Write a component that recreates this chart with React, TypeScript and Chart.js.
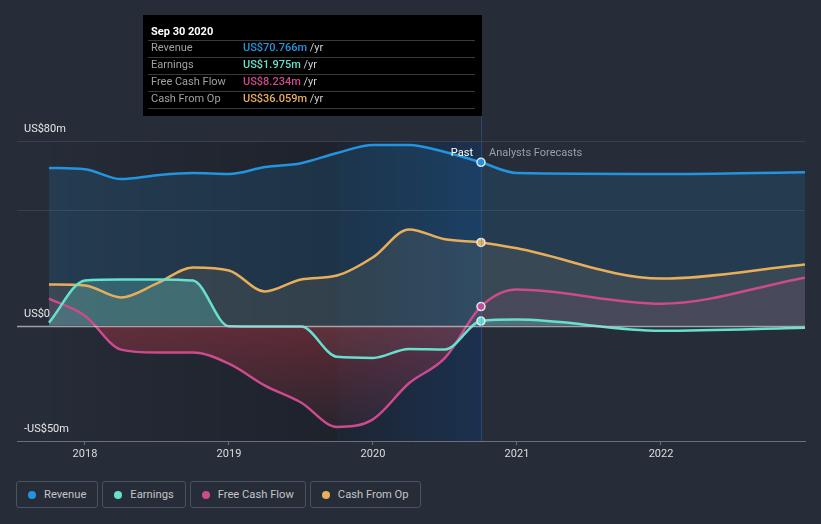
import React, { useEffect, useRef } from 'react';
import { Chart, registerables } from 'chart.js';

Chart.register(...registerables);

// ---- data ----
const pastDates = [2017.75, 2018.0, 2018.25, 2018.5, 2018.75, 2019.0, 2019.25, 2019.5, 2019.75, 2020.0, 2020.25, 2020.5, 2020.75];
const forecastDates = [2021.0, 2022.0, 2023.0];

const revenuePast = [68.3, 67.8, 63.5, 65.2, 66.1, 65.7, 68.7, 70.4, 74.8, 78.3, 78.3, 75.2, 70.766];
const revenueForecast = [66.1, 65.7, 66.5];

const earningsPast = [1.3, 19.6, 20.0, 20.0, 19.5, -0.3, -0.4, -0.4, -13.5, -14.0, -10.1, -10.3, 1.975];
const earningsForecast = [2.6, -2.2, -0.9];

const fcfPast = [11.7, 4.3, -10.4, -11.7, -11.6, -16.5, -26.0, -33.3, -43.9, -40.6, -25.0, -14.0, 8.234];
const fcfForecast = [15.6, 9.5, 20.8];

const cfoPast = [17.8, 17.4, 12.2, 18.3, 25.2, 23.9, 14.8, 20.0, 21.7, 29.6, 41.7, 37.4, 36.059];
const cfoForecast = [33.5, 20.4, 26.5];

const seriesNames = ['Revenue', 'Earnings', 'Free Cash Flow', 'Cash From Op'];
const seriesColors = ['#2394df', '#67e0cd', '#cd4b8c', '#e9ae5b'];
const tooltipTitle = 'Sep 30 2020';
const tooltipValues = ['US$70.766m', 'US$1.975m', 'US$8.234m', 'US$36.059m'];
const tooltipUnit = '/yr';

const yearTicks = [2018, 2019, 2020, 2021, 2022];
const yGridValues = [-50, 0, 50, 80];
const yLabelValues = [80, 0, -50];
const yLabelTexts = ['US$80m', 'US$0', '-US$50m'];
const bandStart = 2019.75;
const pastEnd = 2020.75;
const xMin = 2017.528;
const xMax = 2023.0;

const FONT = 'Roboto, "Noto Sans", sans-serif';

export default function App() {
  const canvasRef = useRef<HTMLCanvasElement>(null);

  useEffect(() => {
    const canvas = canvasRef.current!;
    const mk = (past: number[], fc: number[]) => [
      ...pastDates.map((x, i) => ({ x, y: past[i] })),
      ...forecastDates.map((x, i) => ({ x, y: fc[i] })),
    ];
    const markerIndex = pastDates.length - 1;

    const shadingPlugin = {
      id: 'shading',
      beforeDraw(chart: any) {
        const { ctx, chartArea: a, scales } = chart;
        const x = scales.x;
        const x0 = x.getPixelForValue(pastDates[0]);
        const xb = x.getPixelForValue(bandStart);
        const xe = x.getPixelForValue(pastEnd);
        const h = a.bottom - a.top;
        ctx.save();
        let g = ctx.createLinearGradient(x0, 0, xb, 0);
        g.addColorStop(0, 'rgba(0,0,0,0)');
        g.addColorStop(1, 'rgba(0,0,0,0.22)');
        ctx.fillStyle = g;
        ctx.fillRect(x0, a.top, xb - x0, h);
        ctx.fillStyle = 'rgba(0,0,0,0.22)';
        ctx.fillRect(xb, a.top, xe - xb, h);
        g = ctx.createLinearGradient(xb, 0, xe, 0);
        g.addColorStop(0, 'rgba(20,110,220,0.04)');
        g.addColorStop(1, 'rgba(20,110,220,0.2)');
        ctx.fillStyle = g;
        ctx.fillRect(xb, a.top, xe - xb, h);
        ctx.restore();
      },
      afterDatasetsDraw(chart: any) {
        const { ctx, chartArea: a, scales } = chart;
        const y0 = Math.round(scales.y.getPixelForValue(0)) + 0.5;
        ctx.save();
        ctx.strokeStyle = 'rgba(200,200,205,0.75)';
        ctx.lineWidth = 1.5;
        ctx.beginPath();
        ctx.moveTo(a.left, y0);
        ctx.lineTo(a.right, y0);
        ctx.stroke();
        ctx.restore();
      },
      afterDraw(chart: any) {
        const { ctx, chartArea: a, scales } = chart;
        const xe = scales.x.getPixelForValue(pastEnd);
        ctx.save();
        // y labels
        ctx.font = `11px ${FONT}`;
        ctx.fillStyle = '#e6e6e6';
        ctx.textBaseline = 'middle';
        ctx.textAlign = 'left';
        yLabelValues.forEach((v, i) => {
          const py = scales.y.getPixelForValue(v);
          ctx.fillText(yLabelTexts[i], a.left + 7, py - 11.5);
        });
        // past / forecast labels
        ctx.font = `11px ${FONT}`;
        ctx.textAlign = 'right';
        ctx.fillStyle = '#ffffff';
        ctx.fillText('Past', xe - 8, a.top + 12);
        ctx.textAlign = 'left';
        ctx.fillStyle = '#9aa0a8';
        ctx.fillText('Analysts Forecasts', xe + 8, a.top + 12);
        // vertical line
        const top = 15;
        const bottom = 116;
        ctx.strokeStyle = 'rgba(50,120,210,0.35)';
        ctx.lineWidth = 1;
        ctx.beginPath();
        ctx.moveTo(Math.round(xe) + 0.5, bottom);
        ctx.lineTo(Math.round(xe) + 0.5, a.bottom);
        ctx.stroke();
        // tooltip box
        const right = Math.round(xe) + 1;
        const left = right - 339;
        ctx.fillStyle = '#000000';
        ctx.fillRect(left, top, right - left, bottom - top);
        ctx.font = `bold 11px ${FONT}`;
        ctx.fillStyle = '#ffffff';
        ctx.textAlign = 'left';
        ctx.fillText(tooltipTitle, left + 8, top + 17);
        ctx.strokeStyle = '#3a3a3a';
        for (let i = 0; i < 5; i++) {
          const ly = top + 25.5 + i * 17;
          ctx.beginPath();
          ctx.moveTo(left + 5, ly);
          ctx.lineTo(right - 7, ly);
          ctx.stroke();
        }
        seriesNames.forEach((n, i) => {
          const ry = top + 33.5 + i * 17;
          ctx.font = `11px ${FONT}`;
          ctx.fillStyle = '#a0a0a0';
          ctx.fillText(n, left + 8, ry);
          ctx.font = `500 11px ${FONT}`;
          ctx.fillStyle = seriesColors[i];
          ctx.fillText(tooltipValues[i], left + 100, ry);
          const w = ctx.measureText(tooltipValues[i] + ' ').width;
          ctx.font = `11px ${FONT}`;
          ctx.fillStyle = '#cfcfcf';
          ctx.fillText(tooltipUnit, left + 100 + w, ry);
        });
        ctx.restore();
      },
    };

    const fcfFill = (c: any) => {
      const chart = c.chart;
      const { ctx, chartArea, scales } = chart;
      if (!chartArea) return 'rgba(205,75,140,0.12)';
      const g = ctx.createLinearGradient(0, chartArea.top, 0, chartArea.bottom);
      const z = (scales.y.getPixelForValue(0) - chartArea.top) / (chartArea.bottom - chartArea.top);
      g.addColorStop(0, 'rgba(205,75,140,0.12)');
      g.addColorStop(z, 'rgba(205,75,140,0.12)');
      g.addColorStop(Math.min(1, z + 0.001), 'rgba(200,55,70,0.38)');
      g.addColorStop(1, 'rgba(200,55,70,0.04)');
      return g;
    };

    const common = (i: number) => ({
      borderColor: seriesColors[i],
      borderWidth: 2.5,
      cubicInterpolationMode: 'monotone' as const,
      pointRadius: (c: any) => (c.dataIndex === markerIndex ? 4 : 0),
      pointHoverRadius: 0,
      pointBackgroundColor: seriesColors[i],
      pointBorderColor: '#e4eaf0',
      pointBorderWidth: 1.5,
    });

    const chart = new Chart(canvas, {
      type: 'line',
      data: {
        datasets: [
          { label: seriesNames[0], data: mk(revenuePast, revenueForecast), ...common(0), fill: 'origin', backgroundColor: 'rgba(35,148,223,0.15)', order: 1 },
          { label: seriesNames[1], data: mk(earningsPast, earningsForecast), ...common(1), fill: { target: 'origin', above: 'rgba(103,224,205,0.28)', below: 'rgba(103,224,205,0.04)' }, order: 2 },
          { label: seriesNames[2], data: mk(fcfPast, fcfForecast), ...common(2), fill: 'origin', backgroundColor: fcfFill, order: 3 },
          { label: seriesNames[3], data: mk(cfoPast, cfoForecast), ...common(3), fill: 'origin', backgroundColor: 'rgba(233,174,91,0.12)', order: 4 },
        ],
      },
      options: {
        responsive: false,
        animation: false,
        events: [],
        layout: { padding: { left: 17, right: 16, top: 141, bottom: 7 } },
        plugins: {
          legend: { display: false },
          tooltip: { enabled: false },
          filler: { drawTime: 'beforeDatasetsDraw', propagate: false },
        },
        scales: {
          x: {
            type: 'linear',
            min: xMin,
            max: xMax,
            afterBuildTicks: (s: any) => { s.ticks = yearTicks.map((v) => ({ value: v })); },
            afterFit: (s: any) => { s.height = 22; },
            ticks: { color: '#dcdcdc', font: { family: FONT, size: 11 }, padding: 3, maxRotation: 0, autoSkip: false, callback: (v: any) => String(v) },
            grid: { drawOnChartArea: false, drawTicks: true, tickLength: 4, color: '#6a707b' },
            border: { display: true, color: '#6a707b', width: 1 },
          },
          y: {
            min: -50,
            max: 80,
            afterBuildTicks: (s: any) => { s.ticks = yGridValues.map((v) => ({ value: v })); },
            afterFit: (s: any) => { s.width = 0; },
            ticks: { display: false },
            border: { display: false },
            grid: { drawTicks: false, color: (c: any) => (c.tick && c.tick.value > 0 ? '#3a404c' : 'rgba(0,0,0,0)') },
          },
        },
      },
      plugins: [shadingPlugin],
    } as any);
    return () => chart.destroy();
  }, []);

  return (
    <div style={{ position: 'absolute', left: 0, top: 0, width: 821, height: 524, background: '#262c38', overflow: 'hidden', fontFamily: FONT }}>
      <canvas ref={canvasRef} width={821} height={470} style={{ display: 'block', width: 821, height: 470 }} />
      <div style={{ position: 'absolute', left: 16, top: 481, display: 'flex', gap: 4 }}>
        {seriesNames.map((n, i) => (
          <div key={n} style={{ height: 27, boxSizing: 'border-box', border: '1px solid #4b5261', borderRadius: 3, padding: '0 11px', display: 'flex', alignItems: 'center', color: '#c4c4c4', fontSize: 11.2 }}>
            <span style={{ width: 8, height: 8, borderRadius: '50%', background: seriesColors[i], marginRight: 8, display: 'inline-block', flex: 'none' }} />
            <span>{n}</span>
          </div>
        ))}
      </div>
    </div>
  );
}
